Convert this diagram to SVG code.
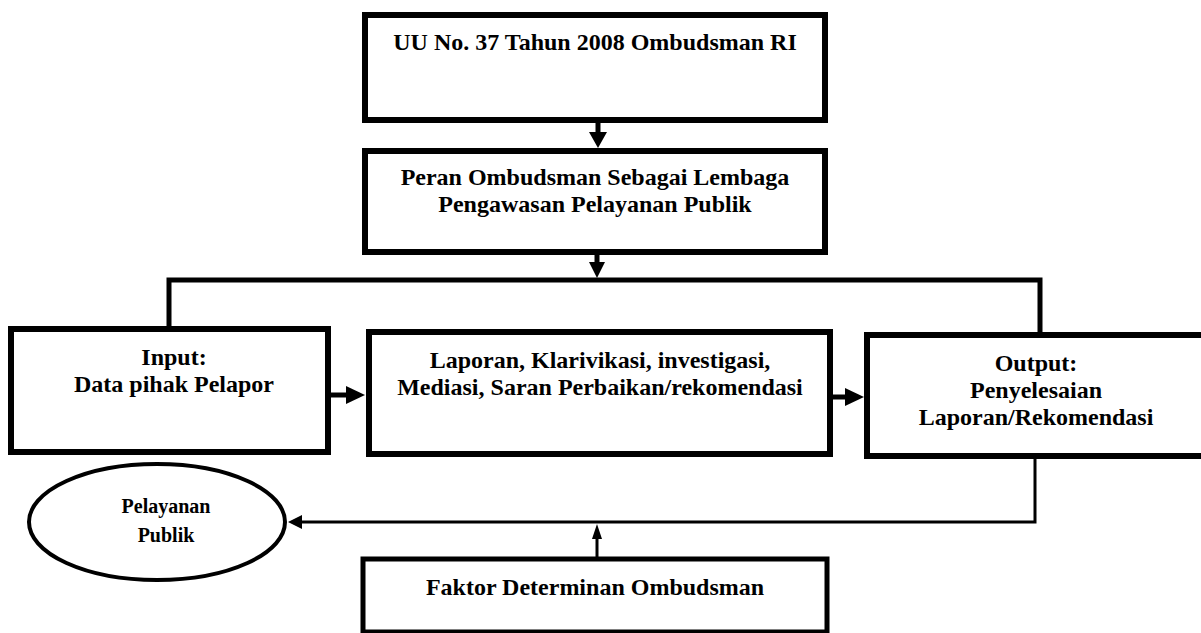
<svg xmlns="http://www.w3.org/2000/svg" width="1201" height="633" viewBox="0 0 1201 633">
<style>
.box{fill:#fff;stroke:#000;stroke-width:6}
.t{font-family:"Liberation Serif","Times New Roman",serif;font-weight:bold;font-size:24px;fill:#000;text-anchor:middle}
.t20{font-size:20px}
.ln{fill:none;stroke:#000;stroke-width:5}
.thin{fill:none;stroke:#000;stroke-width:3}
.ah{fill:#000}
</style>
<rect width="1201" height="633" fill="#fff"/>
<g id="connectors">
  <line class="ln" x1="598" y1="120" x2="598" y2="134"/>
  <polygon class="ah" points="589,132 607,132 598,148"/>
  <line class="ln" x1="597" y1="252" x2="597" y2="264"/>
  <polygon class="ah" points="589,262 605,262 597,278"/>
  <polyline class="ln" points="169,329 169,280 1040,280 1040,335"/>
  <line class="ln" x1="330" y1="395" x2="348" y2="395"/>
  <polygon class="ah" points="346,386 346,404 365,395"/>
  <line class="ln" x1="832" y1="397" x2="847" y2="397"/>
  <polygon class="ah" points="845,388 845,406 864,397"/>
  <polyline class="thin" points="1035,456 1035,522 298,522"/>
  <polygon class="ah" points="302,515 302,529 288,522"/>
  <line class="thin" x1="597" y1="559" x2="597" y2="535"/>
  <polygon class="ah" points="592,539 602,539 597,524"/>
</g>
<g id="n1">
  <rect class="box" x="365" y="15" width="460" height="105"/>
  <text class="t" x="595" y="50">UU No. 37 Tahun 2008 Ombudsman RI</text>
</g>
<g id="n2">
  <rect class="box" x="365" y="151" width="460" height="101"/>
  <text class="t" x="595" y="185">Peran Ombudsman Sebagai Lembaga</text>
  <text class="t" x="595" y="212">Pengawasan Pelayanan Publik</text>
</g>
<g id="n3">
  <rect class="box" x="11" y="329" width="317" height="123"/>
  <text class="t" x="174" y="365">Input:</text>
  <text class="t" x="174" y="392">Data pihak Pelapor</text>
</g>
<g id="n4">
  <rect class="box" x="369" y="332" width="461" height="122"/>
  <text class="t" x="600" y="368">Laporan, Klarivikasi, investigasi,</text>
  <text class="t" x="600" y="395">Mediasi, Saran Perbaikan/rekomendasi</text>
</g>
<g id="n5">
  <rect class="box" x="867" y="335" width="345" height="121"/>
  <text class="t" x="1036" y="371">Output:</text>
  <text class="t" x="1036" y="398">Penyelesaian</text>
  <text class="t" x="1036" y="425">Laporan/Rekomendasi</text>
</g>
<g id="n6">
  <ellipse cx="157" cy="522" rx="128" ry="58" fill="#fff" stroke="#000" stroke-width="4"/>
  <text class="t t20" x="166" y="513">Pelayanan</text>
  <text class="t t20" x="166" y="542">Publik</text>
</g>
<g id="n7">
  <rect class="box" x="363" y="559" width="464" height="73" style="stroke-width:5"/>
  <text class="t" x="595" y="595">Faktor Determinan Ombudsman</text>
</g>
</svg>
